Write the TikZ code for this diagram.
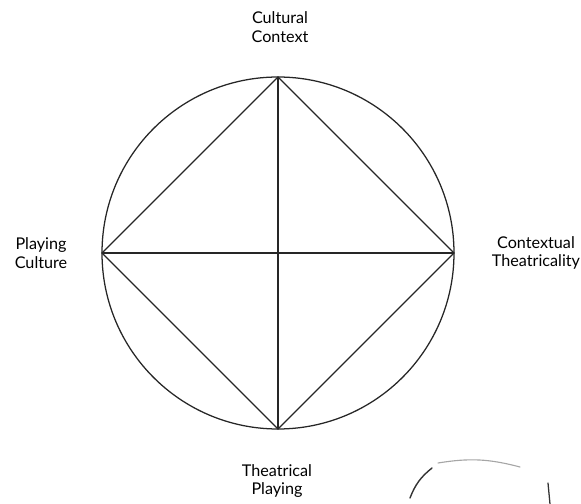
\documentclass[tikz,border=0pt]{standalone}
\usepackage{fontspec}
\setmainfont{Lato}
\begin{document}
\begin{tikzpicture}[x=0.025cm, y=-0.025cm, line join=round, line cap=round,
		lbl/.style={align=center, font=\fontsize{11.5}{13}\selectfont, inner sep=0pt},
		edge/.style={line width=0.9pt, black!85}]
				\useasboundingbox (0,0) rectangle (581,504);
				\coordinate (o) at (278,253);
				\coordinate (top) at (278,77);
				\coordinate (bot) at (278,429);
				\coordinate (lft) at (102,253);
				\coordinate (rgt) at (454,253);
				\draw[edge] (o) circle[radius=176];
				\draw[edge] (top)--(rgt)--(bot)--(lft)--cycle;
				\draw[edge] (top)--(bot);
				\draw[edge] (lft)--(rgt);
				\node[lbl] (cc) at (280,27) {Cultural\\Context};
				\node[lbl] (pc) at (41,253) {Playing\\Culture};
				\node[lbl] (ct) at (536,253) {Contextual\\Theatricality};
				\node[lbl] (tp) at (277,481) {Theatrical\\Playing};
				% stray marks of the scan
				\draw[line width=1pt, black!80] (410,498) to[bend left=15] (432,468);
				\draw[line width=0.8pt, black!35] (438,463) to[bend left=12] (520,467);
				\draw[line width=0.9pt, black!80] (548,483)--(550,504);
		\end{tikzpicture}
\end{document}
